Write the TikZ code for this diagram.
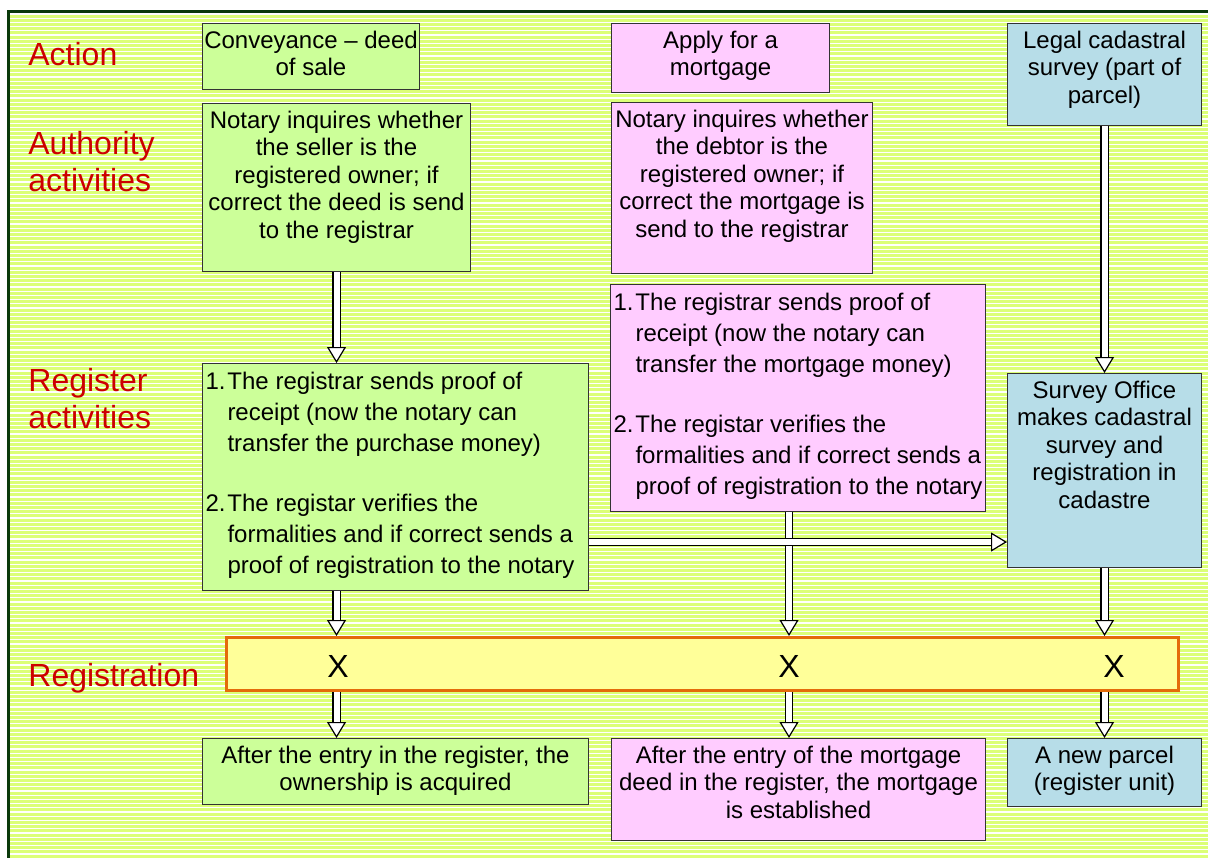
\documentclass[tikz,border=0pt]{standalone}
\usepackage{fontspec}
\setmainfont{Liberation Sans}
\usepackage{tikz}
\usetikzlibrary{arrows.meta, positioning, calc}
\usepackage{xcolor}
\definecolor{stripeColor}{HTML}{DCFF78}
\definecolor{frameColor}{HTML}{0B3A0B}
\definecolor{greenBoxColor}{HTML}{CCFF99}
\definecolor{pinkBoxColor}{HTML}{FFCCFF}
\definecolor{blueBoxColor}{HTML}{B7DDE8}
\definecolor{barColor}{HTML}{FFFF99}
\definecolor{barFrameColor}{HTML}{E46C0A}
\definecolor{labelColor}{HTML}{CC0000}
\newcommand{\boxtext}[3]{\begin{minipage}[t][#2][t]{#1}\centering\rule{0pt}{12.3pt}#3\end{minipage}}
\newcommand{\listtext}[3]{\begin{minipage}[t][#2][t]{#1}\raggedright\leftskip=1.5pt\fontsize{12}{15.5}\selectfont\rule{0pt}{13pt}#3\end{minipage}}
\newcommand{\listitem}[2]{\hangindent=11pt\hangafter=1\noindent\makebox[11pt][l]{#1}#2\par}
\tikzset{
  stepBox/.style = {draw=black!80, line width=0.5pt, inner sep=0pt, anchor=north west,
    font=\fontsize{12}{13.75}\selectfont},
  greenBox/.style = {stepBox, fill=greenBoxColor},% deed of sale
  pinkBox/.style = {stepBox, fill=pinkBoxColor},% mortgage
  blueBox/.style = {stepBox, fill=blueBoxColor},% cadastre
  rowLabel/.style = {anchor=west, align=left, inner sep=0pt, text=labelColor,
    font=\fontsize{16}{18.5}\selectfont},
  registrationBar/.style = {draw=barFrameColor, line width=1.5pt, fill=barColor, anchor=north west,
    inner sep=0pt, minimum width=476pt, minimum height=26.5pt},
  crossMark/.style = {inner sep=0pt, font=\fontsize{16}{19}\selectfont},
  blockArrow/.style = {draw=black, line width=0.6pt, double=white, double distance=3pt,
    -{Triangle[length=8pt, width=9.5pt, fill=white, line width=0.6pt]}},
}
\begin{document}
\begin{tikzpicture}[x=0.5pt, y=-0.5pt]
\useasboundingbox (0,0) rectangle (1208,857);
% striped background
\fill[stripeColor] (9,12) rectangle (1230,880);
\foreach \y in {14,18.2,...,857}
  \draw[white, line width=0.55pt] (10,\y) -- (1208,\y);
\draw[frameColor, line width=1.5pt] (8.5,11.5) rectangle (1230,880);

% row labels
\node [rowLabel] (actionLabel) at (28,54) {Action};
\node [rowLabel] (authorityLabel) at (28,161.5) {Authority\\activities};
\node [rowLabel] (registerLabel) at (28,398.5) {Register\\activities};
\node [rowLabel] (registrationLabel) at (28,678) {Registration};

% actions
\node [greenBox] (conveyance) at (202,23) {\boxtext{108.5pt}{33pt}{Conveyance -- deed\\of sale}};
\node [pinkBox] (applyMortgage) at (611,23) {\boxtext{109pt}{34.5pt}{Apply for a\\mortgage}};
\node [blueBox] (cadastralSurvey) at (1007,23) {\boxtext{97pt}{51pt}{Legal cadastral\\survey (part of\\parcel)}};

% authority activities
\node [greenBox] (notarySeller) at (202,103) {\boxtext{134pt}{84pt}{Notary inquires whether\\the seller is the\\registered owner; if\\correct the deed is send\\to the registrar}};
\node [pinkBox] (notaryDebtor) at (611,102) {\boxtext{130.5pt}{85.5pt}{Notary inquires whether\\the debtor is the\\registered owner; if\\correct the mortgage is\\send to the registrar}};

% register activities
\node [greenBox] (registrarSeller) at (202,363) {\listtext{193pt}{113.5pt}{%
  \listitem{1.}{The registrar sends proof of\newline receipt (now the notary can\newline transfer the purchase money)}
  \vspace{14.5pt}
  \listitem{2.}{The registar verifies the\newline formalities and if correct sends a\newline proof of registration to the notary}}};
\node [pinkBox] (registrarDebtor) at (610,284) {\listtext{187.5pt}{113.5pt}{%
  \listitem{1.}{The registrar sends proof of\newline receipt (now the notary can\newline transfer the mortgage money)}
  \vspace{14.5pt}
  \listitem{2.}{The registar verifies the\newline formalities and if correct sends a\newline proof of registration to the notary}}};
\node [blueBox] (surveyOffice) at (1007,373) {\boxtext{97pt}{97pt}{Survey Office\\makes cadastral\\survey and\\registration in\\cadastre}};

% registration
\node [registrationBar] (registrationBar) at (225,636) {};
\node [crossMark] (crossDeed) at (338,666) {X};
\node [crossMark] (crossMortgage) at (789,666) {X};
\node [crossMark] (crossParcel) at (1114,666) {X};

% results
\node [greenBox] (ownershipResult) at (202,738) {\boxtext{193pt}{33pt}{After the entry in the register, the\\ownership is acquired}};
\node [pinkBox] (mortgageResult) at (611,738) {\boxtext{187pt}{51pt}{After the entry of the mortgage\\deed in the register, the mortgage\\is established}};
\node [blueBox] (parcelResult) at (1007,738) {\boxtext{97pt}{34pt}{A new parcel\\(register unit)}};

% arrows
\coordinate (transferLevel) at (588,542);
\draw [blockArrow] (notarySeller.south) -- (notarySeller.south |- registrarSeller.north);
\draw [blockArrow] (cadastralSurvey.south) -- (surveyOffice.north);
\draw [blockArrow] (registrarSeller.south -| notarySeller.south) -- (registrationBar.north -| notarySeller.south);
\draw [blockArrow] (registrarDebtor.south -| crossMortgage) -- (registrationBar.north -| crossMortgage);
\draw [blockArrow] (registrarSeller.east |- transferLevel) -- (surveyOffice.west |- transferLevel);
\draw [blockArrow] (surveyOffice.south) -- (registrationBar.north -| surveyOffice.south);
\draw [blockArrow] (registrationBar.south -| notarySeller.south) -- (ownershipResult.north -| notarySeller.south);
\draw [blockArrow] (registrationBar.south -| crossMortgage) -- (mortgageResult.north -| crossMortgage);
\draw [blockArrow] (registrationBar.south -| surveyOffice.south) -- (parcelResult.north);
\end{tikzpicture}
\end{document}
